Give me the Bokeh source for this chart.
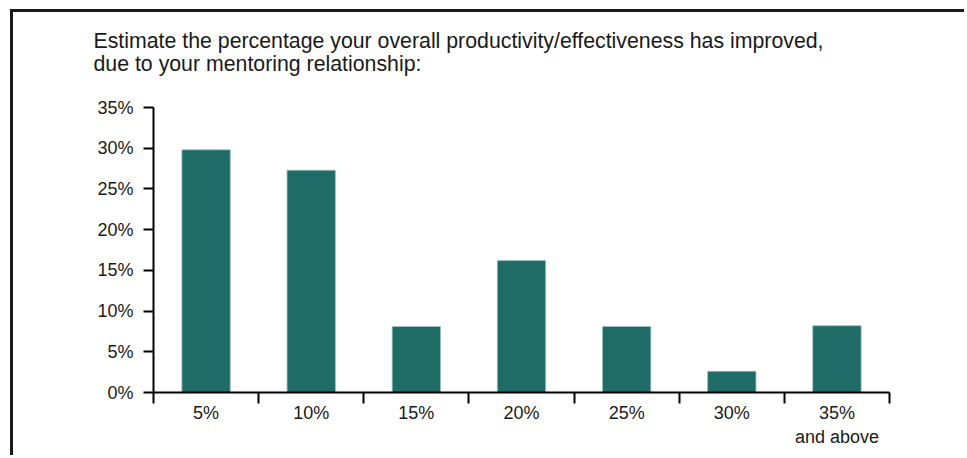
from bokeh.plotting import figure
from bokeh.models import ColumnDataSource, FixedTicker, PrintfTickFormatter, Range1d, Title
from bokeh.embed import file_html
from bokeh.resources import INLINE

title_lines = ["Estimate the percentage your overall productivity/effectiveness has improved,",
               "due to your mentoring relationship:"]
categories = ["5%", "10%", "15%", "20%", "25%", "30%", "35%\nand above"]
values = [29.8, 27.3, 8.1, 16.2, 8.1, 2.6, 8.2]
y_ticks = [0, 5, 10, 15, 20, 25, 30, 35]

FONT = "Liberation Sans"
BAR = "#1f6b66"
INK = "#1a1a1a"

xs = [i + 0.5 for i in range(len(categories))]
source = ColumnDataSource(data=dict(x=xs, top=values, cat=categories))

# canvas starts at page (13, 12), after a 3px border placed at (10, 9)
p = figure(width=954, height=446, output_backend="svg", toolbar_location=None,
           x_range=Range1d(0, len(categories)), y_range=Range1d(0, 35),
           min_border_left=140, min_border_right=78, min_border_top=95, min_border_bottom=66)
p.margin = (9, 0, 0, 10)
p.styles = {"border-left": "3px solid " + INK, "border-top": "3px solid " + INK}
p.outline_line_color = None
p.xgrid.visible = False
p.ygrid.visible = False

p.vbar(x="x", top="top", width=0.46, bottom=0, source=source,
       fill_color=BAR, line_color="#9cc3bf", line_width=0.8)

# y axis
ya = p.yaxis[0]
ya.ticker = FixedTicker(ticks=y_ticks, minor_ticks=[])
ya.formatter = PrintfTickFormatter(format="%d%%")
ya.axis_line_width = 2
ya.major_tick_line_width = 2
ya.major_tick_out = 10
ya.major_tick_in = 0
ya.minor_tick_out = 0
ya.major_label_standoff = 10
ya.major_label_text_font = FONT
ya.major_label_text_font_size = "18px"
ya.major_label_text_color = INK

# x axis
xa = p.xaxis[0]
xa.ticker = FixedTicker(ticks=xs, minor_ticks=list(range(len(categories) + 1)))
xa.major_label_overrides = {x: c for x, c in zip(xs, categories)}
xa.axis_line_width = 2
xa.major_tick_out = 0
xa.major_tick_in = 0
xa.minor_tick_out = 11
xa.minor_tick_in = 0
xa.minor_tick_line_width = 2
xa.minor_tick_line_color = "black"
xa.major_label_standoff = -1
xa.major_label_text_font = FONT
xa.major_label_text_font_size = "18px"
xa.major_label_text_color = INK
xa.major_label_text_line_height = 1.23

# title (a blank trailing line keeps it clear of the plot area)
p.add_layout(Title(text="\n".join(title_lines + [" "]), align="left", offset=-60,
                   vertical_align="bottom",
                   text_font=FONT, text_font_size="21.3px", text_font_style="normal",
                   text_color=INK, text_line_height=0.95, standoff=18), "above")

open("out.html", "w").write(file_html(p, INLINE))
